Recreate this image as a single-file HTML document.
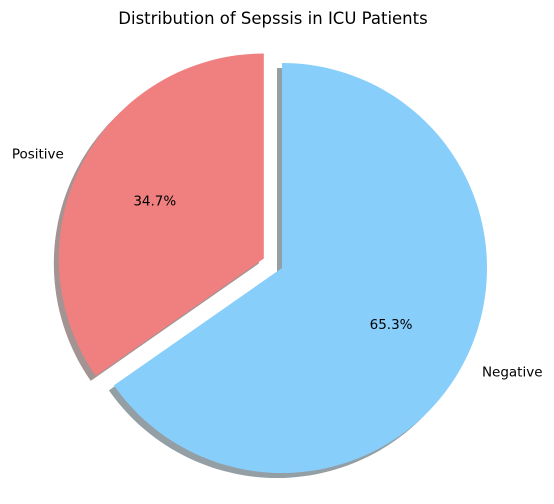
<!DOCTYPE html>
<html><head><meta charset="utf-8"><style>
body{margin:0;background:#fff}
svg{display:block;font-family:"DejaVu Sans","Liberation Sans",sans-serif}
</style></head><body>
<svg id="chart" width="554" height="504" viewBox="0 0 554 504" xmlns="http://www.w3.org/2000/svg">
<rect width="554" height="504" fill="#fff"/>
<text x="273" y="24" font-size="16.5" text-anchor="middle" fill="#000">Distribution of Sepssis in ICU Patients</text>
<g id="shadows"></g>
<g id="slices"></g>
<g id="labels"></g>
</svg>
<script>
const categories = ["Positive", "Negative"];
const values = [34.7, 65.3];
const colors = ["#f08080", "#87cefa"];
const explode = [0.1, 0];

const cx = 282, cy = 268, R = 205;
const shDx = -5, shDy = 5;
const NS = "http://www.w3.org/2000/svg";
const total = values.reduce((a, b) => a + b, 0);
const sh = document.getElementById("shadows");
const sl = document.getElementById("slices");
const lb = document.getElementById("labels");

function pt(x, y, r, a) { return [x + r * Math.cos(a), y - r * Math.sin(a)]; }
function wedge(x, y, a0, a1) {
  const p0 = pt(x, y, R, a0), p1 = pt(x, y, R, a1);
  const large = (a1 - a0) > Math.PI ? 1 : 0;
  return `M${x},${y} L${p0[0]},${p0[1]} A${R},${R} 0 ${large} 0 ${p1[0]},${p1[1]} Z`;
}
function shade(hex) {
  const n = parseInt(hex.slice(1), 16);
  const c = [(n >> 16) & 255, (n >> 8) & 255, n & 255].map(v => Math.round(v * 0.3 * 0.5 + 255 * 0.5));
  return `rgb(${c[0]},${c[1]},${c[2]})`;
}
let ang = Math.PI / 2;
values.forEach((v, i) => {
  const sweep = v / total * 2 * Math.PI;
  const a0 = ang, a1 = ang + sweep, mid = (a0 + a1) / 2;
  const ox = cx + explode[i] * R * Math.cos(mid), oy = cy - explode[i] * R * Math.sin(mid);
  const s = document.createElementNS(NS, "path");
  s.setAttribute("d", wedge(ox + shDx, oy + shDy, a0, a1));
  s.setAttribute("fill", shade(colors[i]));
  
  
  sh.appendChild(s);
  const p = document.createElementNS(NS, "path");
  p.setAttribute("d", wedge(ox, oy, a0, a1));
  p.setAttribute("fill", colors[i]);
  
  
  sl.appendChild(p);
  const lp = pt(ox, oy, R * 1.1, mid);
  const t = document.createElementNS(NS, "text");
  t.setAttribute("x", lp[0]); t.setAttribute("y", lp[1] + 4);
  t.setAttribute("font-size", "13.5");
  t.setAttribute("text-anchor", Math.cos(mid) < 0 ? "end" : "start");
  t.textContent = categories[i];
  
  
  lb.appendChild(t);
  const pp = pt(ox, oy, R * 0.6, mid);
  const q = document.createElementNS(NS, "text");
  q.setAttribute("x", pp[0]); q.setAttribute("y", pp[1] + 4);
  q.setAttribute("font-size", "13.5");
  q.setAttribute("text-anchor", "middle");
  q.textContent = v.toFixed(1) + "%";
  
  
  lb.appendChild(q);
  ang = a1;
});
</script>
</body></html>
